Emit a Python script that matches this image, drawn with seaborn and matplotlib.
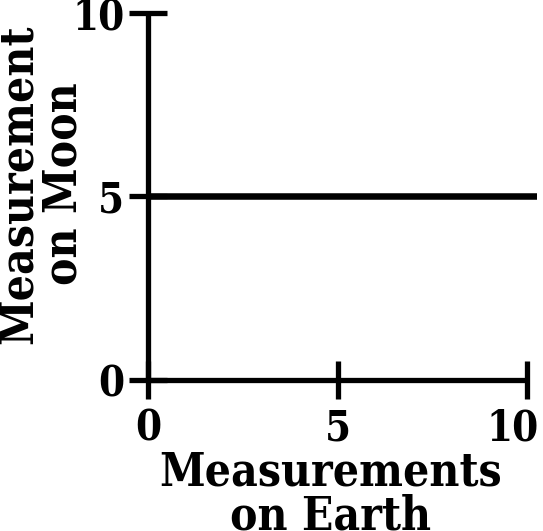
import matplotlib
matplotlib.use("Agg")
import matplotlib.pyplot as plt
import matplotlib.transforms as mtransforms
import seaborn as sns
import pandas as pd

# Data
earth = [0.0, 10.25]
moon = [5.0, 5.0]
x_ticks = [0, 5, 10]
y_ticks = [0, 5, 10]
x_label = "Measurements\non Earth"
y_label = "Measurement\non Moon"

sns.set_theme(style="ticks")
plt.rcParams['font.family'] = ['DejaVu Serif']
plt.rcParams['font.weight'] = 'bold'
plt.rcParams['font.stretch'] = 'condensed'
plt.rcParams['text.color'] = 'black'
plt.rcParams['axes.labelcolor'] = 'black'

fig = plt.figure(figsize=(5.43, 5.31), dpi=100)
ax = fig.add_axes([0.2726, 0.2844, 0.7155, 0.6911])

df = pd.DataFrame({"earth": earth, "moon": moon})
sns.lineplot(data=df, x="earth", y="moon", ax=ax, color="black", linewidth=4.7)

ax.set_xlim(0, 10.25)
ax.set_ylim(0, 10)
ax.set_xticks(x_ticks)
ax.set_yticks(y_ticks)
ax.spines['bottom'].set_bounds(0, 10)
for s in ['top', 'right']:
    ax.spines[s].set_visible(False)
for s in ['left', 'bottom']:
    ax.spines[s].set_linewidth(3.8)
    ax.spines[s].set_color('black')
    ax.spines[s].set_capstyle('butt')

ax.tick_params(axis='both', direction='inout', length=28, width=3.8, colors='black',
               labelsize=30)
ax.tick_params(axis='x', pad=6)
ax.tick_params(axis='y', pad=3)
for lab in ax.get_xticklabels() + ax.get_yticklabels():
    lab.set_fontweight('bold')
    lab.set_fontstretch('condensed')

last = ax.get_xticklabels()[-1]
last.set_transform(last.get_transform() +
                   mtransforms.ScaledTranslation(-0.14, 0, fig.dpi_scale_trans))

ax.set_xlabel(x_label, fontsize=33, fontweight='bold', linespacing=0.95)
ax.set_ylabel(y_label, fontsize=33, fontweight='bold', linespacing=0.95)
ax.xaxis.label.set_fontstretch('condensed')
ax.yaxis.label.set_fontstretch('condensed')
ax.xaxis.set_label_coords(0.47, -0.19, transform=ax.transAxes)
ax.yaxis.set_label_coords(-0.275, 0.534, transform=ax.transAxes)
ax.xaxis.label.set_va('top')
ax.yaxis.label.set_va('center')

fig.savefig("out.png", dpi=100)
